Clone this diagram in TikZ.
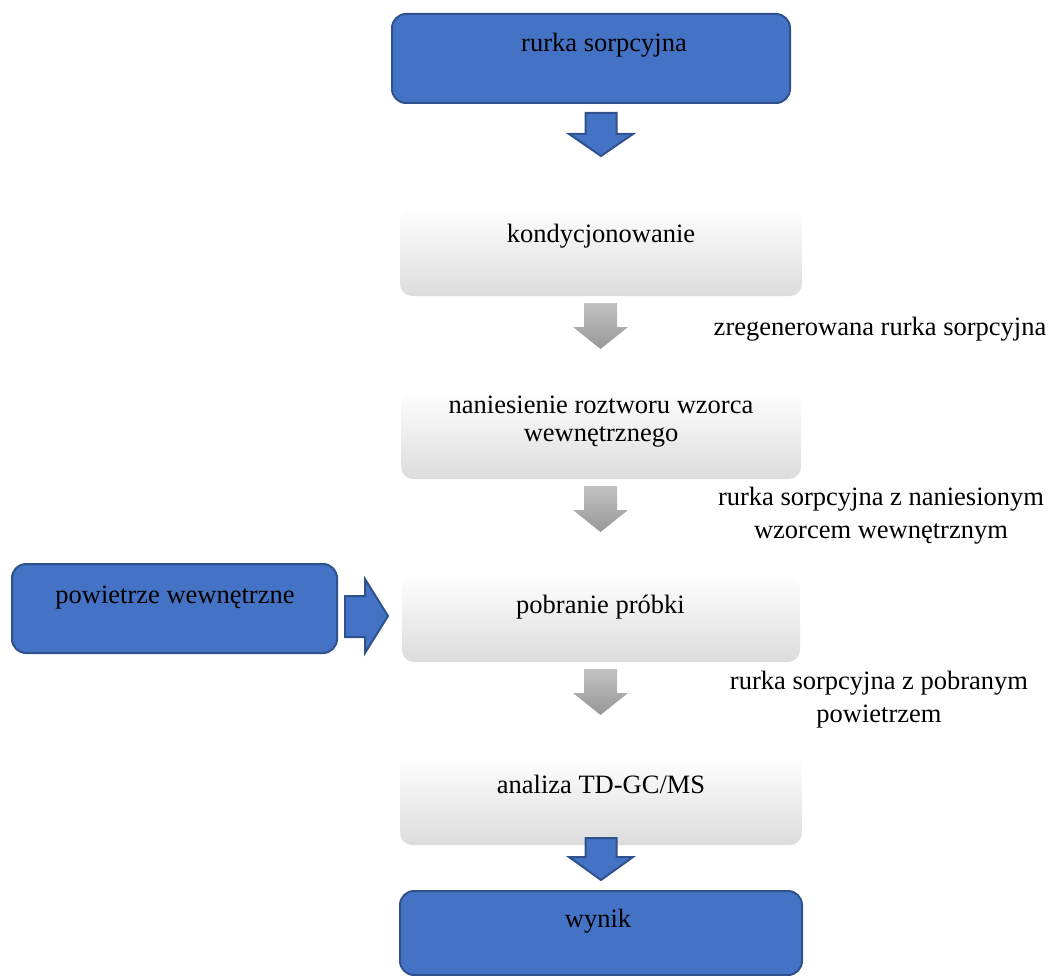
\documentclass[tikz,border=0pt]{standalone}
\usepackage{fontspec}
\setmainfont{Liberation Serif}
\definecolor{boxblue}{HTML}{4472C4}
\definecolor{boxborder}{HTML}{2F528F}
\definecolor{gtop}{HTML}{C2C2C2}
\definecolor{gbot}{HTML}{979797}
\definecolor{gboxbot}{HTML}{DCDCDC}
\tikzset{
  bluebox/.style={draw=boxborder, line width=2pt, fill=boxblue, rounded corners=14pt, inner sep=0pt},
  greybox/.style={top color=white, middle color=white, bottom color=gboxbot, rounded corners=12pt, draw=none, inner sep=0pt},
  txt/.style={font=\rmfamily\fontsize{26.5}{33}\selectfont, anchor=base, inner sep=0pt, align=center},
  bluearrow/.style={draw=boxborder, line width=2pt, fill=boxblue, line join=miter},
  greyarrow/.style={top color=gtop, bottom color=gbot, draw=none},
}
\begin{document}
\begin{tikzpicture}[x=1pt,y=-1pt]
\useasboundingbox (0,0) rectangle (1049,976);

% boxes
\node[bluebox, minimum width=398pt, minimum height=89pt] (b1) at (591,58.5) {};
\node[greybox, minimum width=402pt, minimum height=89pt] (g1) at (601,251.5) {};
\node[greybox, minimum width=400pt, minimum height=89pt] (g2) at (601,434.5) {};
\node[greybox, minimum width=398pt, minimum height=89pt] (g3) at (601,617.5) {};
\node[greybox, minimum width=402pt, minimum height=89pt] (g4) at (601,800.5) {};
\node[bluebox, minimum width=402pt, minimum height=84pt] (b2) at (601,933) {};
\node[bluebox, minimum width=325pt, minimum height=89pt] (bl) at (174.5,608.5) {};

% box texts
\node[txt] (t1) at (604,52) {rurka sorpcyjna};
\node[txt] (t2) at (601,243) {kondycjonowanie};
\node[txt, font=\rmfamily\fontsize{26.5}{28}\selectfont] (t3) at (601,441) {naniesienie roztworu wzorca\\wewnętrznego};
\node[txt] (t4) at (600.5,613) {pobranie próbki};
\node[txt] (t5) at (601,793) {analiza TD-GC/MS};
\node[txt] (t6) at (598,927) {wynik};
\node[txt] (t7) at (175,603) {powietrze wewnętrzne};

% side labels
\node[txt] (l1) at (880,335) {zregenerowana rurka sorpcyjna};
\node[txt] (l2) at (881,538) {rurka sorpcyjna z naniesionym\\wzorcem wewnętrznym};
\node[txt] (l3) at (879,722) {rurka sorpcyjna z pobranym\\powietrzem};

% block arrows
\coordinate (a1) at (601,113);
\draw[bluearrow] (a1) ++(-15.5,0) -- ++(31,0) -- ++(0,21) -- ++(16.5,0) -- ++(-32,22) -- ++(-32,-22) -- ++(16.5,0) -- cycle;

\coordinate (a2) at (600.5,303);
\path[greyarrow] (a2) ++(-16.5,0) -- ++(33,0) -- ++(0,24) -- ++(11,0) -- ++(-27.5,22) -- ++(-27.5,-22) -- ++(11,0) -- cycle;

\coordinate (a3) at (600.5,486);
\path[greyarrow] (a3) ++(-16.5,0) -- ++(33,0) -- ++(0,24) -- ++(11,0) -- ++(-27.5,22) -- ++(-27.5,-22) -- ++(11,0) -- cycle;

\coordinate (a4) at (600.5,669);
\path[greyarrow] (a4) ++(-16.5,0) -- ++(33,0) -- ++(0,24) -- ++(11,0) -- ++(-27.5,22) -- ++(-27.5,-22) -- ++(11,0) -- cycle;

\coordinate (a5) at (601,838);
\draw[bluearrow] (a5) ++(-15.5,0) -- ++(31,0) -- ++(0,19) -- ++(16.5,0) -- ++(-32,23) -- ++(-32,-23) -- ++(16.5,0) -- cycle;

\coordinate (a6) at (345,596);
\draw[bluearrow] (a6) -- ++(20,0) -- ++(0,-17) -- ++(23,37) -- ++(-23,37) -- ++(0,-16) -- ++(-20,0) -- cycle;
\end{tikzpicture}
\end{document}
